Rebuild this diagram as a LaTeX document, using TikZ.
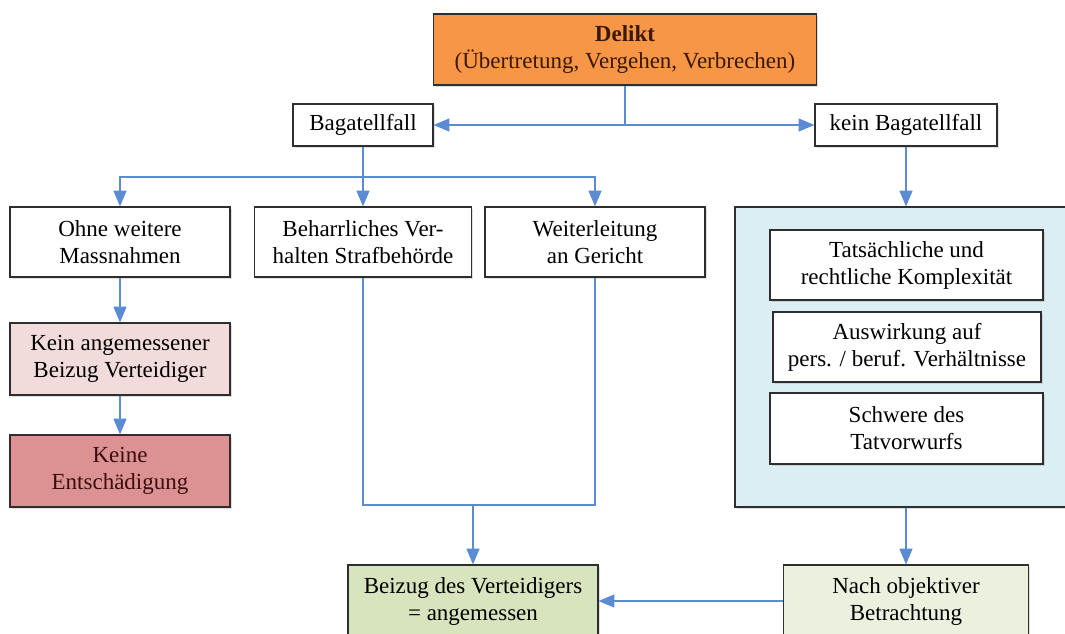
\documentclass[tikz,border=0pt]{standalone}
\usepackage{fontspec}
\setmainfont{Liberation Serif}
\usetikzlibrary{arrows,positioning,shadows}
\definecolor{boxline}{HTML}{2E2E2E}
\definecolor{linkblue}{HTML}{5B8BD3}
\definecolor{deliktfill}{HTML}{F79646}
\definecolor{deliktink}{HTML}{3A1800}
\definecolor{palered}{HTML}{F2DCDB}
\definecolor{deepred}{HTML}{DC9292}
\definecolor{redink}{HTML}{3A0E0E}
\definecolor{critfill}{HTML}{DBEEF4}
\definecolor{greenfill}{HTML}{D7E4BD}
\definecolor{palegreen}{HTML}{EBF1DE}

\begin{document}
\begin{tikzpicture}[x=0.5pt,y=-0.5pt,
  box/.style={draw=boxline,line width=0.6pt,fill=white,align=center,inner sep=0pt,
    font=\fontsize{11.5}{13.5}\selectfont,
    drop shadow={opacity=0.25,shadow xshift=0.8pt,shadow yshift=-0.8pt}},
  link/.style={draw=linkblue,line width=0.8pt},
  arr/.style={link,arrows={-triangle 45}}]
\useasboundingbox (0,0) rectangle (1065,633);
\clip (0,0) rectangle (1065,633);

\node [box,fill=deliktfill,text=deliktink,minimum width=191.5pt,minimum height=35.5pt] (delikt) at (625,49.5) {\textbf{Delikt}\\(Übertretung, Vergehen, Verbrechen)};
\node [box,minimum width=70pt,minimum height=21pt] (bag) at (363,125) {Bagatellfall};
\node [box,minimum width=91pt,minimum height=21pt] (kein) at (906,125) {kein Bagatellfall};

\node [box,minimum width=110pt,minimum height=35pt] (ohne) at (120,242) {Ohne weitere\\Massnahmen};
\node [box,minimum width=108.5pt,minimum height=35pt] (behar) at (363,242) {Beharrliches Ver-\\halten Strafbehörde};
\node [box,minimum width=110pt,minimum height=35pt] (weiter) at (595,242) {Weiterleitung\\an Gericht};

\node [box,fill=palered,minimum width=110pt,minimum height=36pt] (keinang) at (120,359) {Kein angemessener\\Beizug Verteidiger};
\node [box,fill=deepred,text=redink,minimum width=110pt,minimum height=36pt] (keineent) at (120,471) {Keine\\Entschädigung};

\node [box,fill=critfill,minimum width=171pt,minimum height=150pt] (crit) at (906,357) {};
\node [box,minimum width=136.5pt,minimum height=35pt] (tats) at (906.5,265) {Tatsächliche und\\rechtliche Komplexität};
\node [box,minimum width=134pt,minimum height=35pt] (ausw) at (907,347) {Auswirkung auf\\pers. / beruf. Verhältnisse};
\node [box,minimum width=136.5pt,minimum height=35.5pt] (schw) at (906.5,428.5) {Schwere des\\Tatvorwurfs};

\node [box,fill=greenfill,minimum width=125pt,minimum height=36pt] (beizug) at (473,601) {Beizug des Verteidigers\\= angemessen};
\node [box,fill=palegreen,minimum width=122.5pt,minimum height=36pt] (nach) at (906,601) {Nach objektiver\\Betrachtung};

\coordinate (split) at (363,177);
\coordinate (merge) at (473,505);

\draw [link] (delikt.south) -- (delikt.south |- bag.east);
\draw [arr] (delikt.south |- bag.east) -- (bag.east);
\draw [arr] (delikt.south |- kein.west) -- (kein.west);
\draw [link] (bag.south) -- (split);
\draw [arr] (split) -| (ohne.north);
\draw [arr] (split) -| (weiter.north);
\draw [arr] (split) -- (behar.north);
\draw [arr] (ohne.south) -- (keinang.north);
\draw [arr] (keinang.south) -- (keineent.north);
\draw [link] (behar.south) |- (merge) -| (weiter.south);
\draw [arr] (merge) -- (beizug.north);
\draw [arr] (kein.south) -- (crit.north);
\draw [arr] (crit.south) -- (nach.north);
\draw [arr] (nach.west) -- (beizug.east);

\end{tikzpicture}
\end{document}
